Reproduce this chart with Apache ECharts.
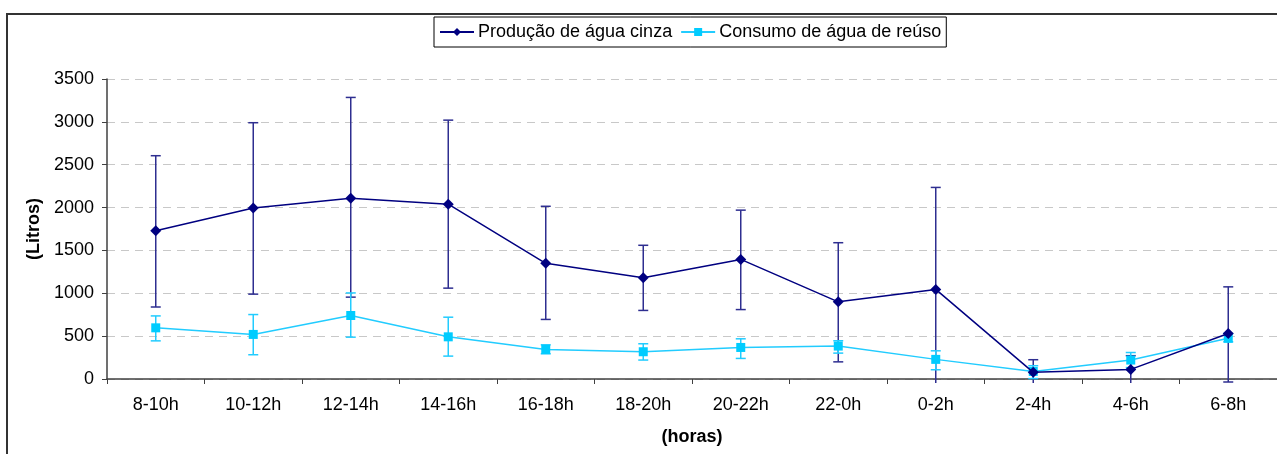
<!DOCTYPE html>
<html>
<head>
<meta charset="utf-8">
<script src="https://cdn.jsdelivr.net/npm/echarts@6/dist/echarts.min.js"></script>
<style>
html,body{margin:0;padding:0;background:#fff;}
#chart{width:1277px;height:454px;}
</style>
</head>
<body>
<div id="chart"></div>
<script>
const categories = ['8-10h','10-12h','12-14h','14-16h','16-18h','18-20h','20-22h','22-0h','0-2h','2-4h','4-6h','6-8h'];
const producao     = [1730, 1995, 2110, 2040, 1350, 1180, 1395, 900, 1045, 78, 112, 530];
const producaoLow  = [840, 990, 955, 1060, 695, 800, 810, 200, -145, -70, -50, -35];
const producaoHigh = [2605, 2990, 3285, 3020, 2015, 1560, 1970, 1590, 2235, 225, 272, 1075];
const consumo      = [597, 520, 741, 492, 345, 318, 368, 384, 229, 88, 221, 475];
const consumoLow   = [445, 283, 488, 267, 294, 221, 240, 302, 108, 5, 133, 434];
const consumoHigh  = [736, 752, 1004, 721, 399, 411, 469, 446, 329, 155, 309, 531];
const yTicks = [0, 500, 1000, 1500, 2000, 2500, 3000, 3500];

const FONT = 'Liberation Sans, Arial, sans-serif';
const chart = echarts.init(document.getElementById('chart'), null, {renderer: 'canvas'});

function errorSeries(name, low, high, color) {
  return {
    type: 'custom',
    name: name + ' err',
    data: categories.map((c, i) => [i, low[i], high[i]]),
    z: 3,
    silent: true,
    clip: false,
    renderItem: function (params, api) {
      const idx = api.value(0);
      const top = api.coord([idx, api.value(2)]);
      const bot = api.coord([idx, api.value(1)]);
      const axisY = api.coord([idx, yTicks[0]])[1];
      const half = 5;
      let botY = bot[1];
      let drawBotCap = true;
      if (botY > axisY + 4) { botY = axisY + 4; drawBotCap = false; }
      const children = [
        {type: 'line', shape: {x1: top[0], y1: top[1], x2: top[0], y2: botY}, style: {stroke: color, lineWidth: 1.5}},
        {type: 'line', shape: {x1: top[0] - half, y1: top[1], x2: top[0] + half, y2: top[1]}, style: {stroke: color, lineWidth: 1.5}}
      ];
      if (drawBotCap) {
        children.push({type: 'line', shape: {x1: bot[0] - half, y1: bot[1], x2: bot[0] + half, y2: bot[1]}, style: {stroke: color, lineWidth: 1.5}});
      }
      return {type: 'group', children: children};
    }
  };
}

chart.setOption({
  animation: false,
  backgroundColor: '#ffffff',
  graphic: [{
    type: 'rect',
    shape: {x: 7, y: 14, width: 1300, height: 460},
    style: {fill: 'none', stroke: '#333333', lineWidth: 2},
    z: -10,
    silent: true
  }],
  legend: {
    data: ['Produção de água cinza', 'Consumo de água de reúso'],
    top: 17,
    left: 434,
    borderColor: '#000000',
    borderWidth: 1,
    padding: [6, 5],
    itemWidth: 34,
    itemHeight: 10,
    itemGap: 8,
    textStyle: {fontFamily: FONT, fontSize: 18, color: '#000000', padding: [0, 0, 0, -1]}
  },
  grid: {left: 107, right: 0, top: 79, bottom: 75, containLabel: false},
  xAxis: {
    type: 'category',
    data: categories,
    boundaryGap: true,
    name: '(horas)',
    nameLocation: 'middle',
    nameGap: 49,
    nameTextStyle: {fontFamily: FONT, fontSize: 18, fontWeight: 'bold', color: '#000000'},
    axisLine: {lineStyle: {color: '#404040', width: 1.5}},
    axisTick: {show: true, length: 5, inside: false, lineStyle: {color: '#404040'}},
    axisLabel: {fontFamily: FONT, fontSize: 18, color: '#000000', margin: 17, interval: 0},
    splitLine: {show: false}
  },
  yAxis: {
    type: 'value',
    min: yTicks[0],
    max: yTicks[yTicks.length - 1],
    interval: 500,
    name: '(Litros)',
    nameLocation: 'middle',
    nameGap: 56,
    nameRotate: 90,
    nameTextStyle: {fontFamily: FONT, fontSize: 18, fontWeight: 'bold', color: '#000000'},
    axisLine: {show: true, lineStyle: {color: '#404040', width: 1.5}},
    axisTick: {show: true, length: 5, lineStyle: {color: '#404040'}},
    axisLabel: {fontFamily: FONT, fontSize: 18, color: '#000000', margin: 13, formatter: v => String(v)},
    splitLine: {show: true, lineStyle: {color: '#c8c8c8', type: [8, 6], width: 1.2}}
  },
  series: [
    errorSeries('Produção de água cinza', producaoLow, producaoHigh, '#2e2e90'),
    errorSeries('Consumo de água de reúso', consumoLow, consumoHigh, '#22ccff'),
    {
      name: 'Produção de água cinza',
      type: 'line',
      data: producao,
      symbol: 'diamond',
      symbolSize: 11,
      z: 5,
      itemStyle: {color: '#000080'},
      lineStyle: {color: '#000080', width: 1.5}
    },
    {
      name: 'Consumo de água de reúso',
      type: 'line',
      data: consumo,
      symbol: 'rect',
      symbolSize: 9,
      z: 4,
      itemStyle: {color: '#00ccff'},
      lineStyle: {color: '#22ccff', width: 1.5}
    }
  ]
});
</script>
</body>
</html>
